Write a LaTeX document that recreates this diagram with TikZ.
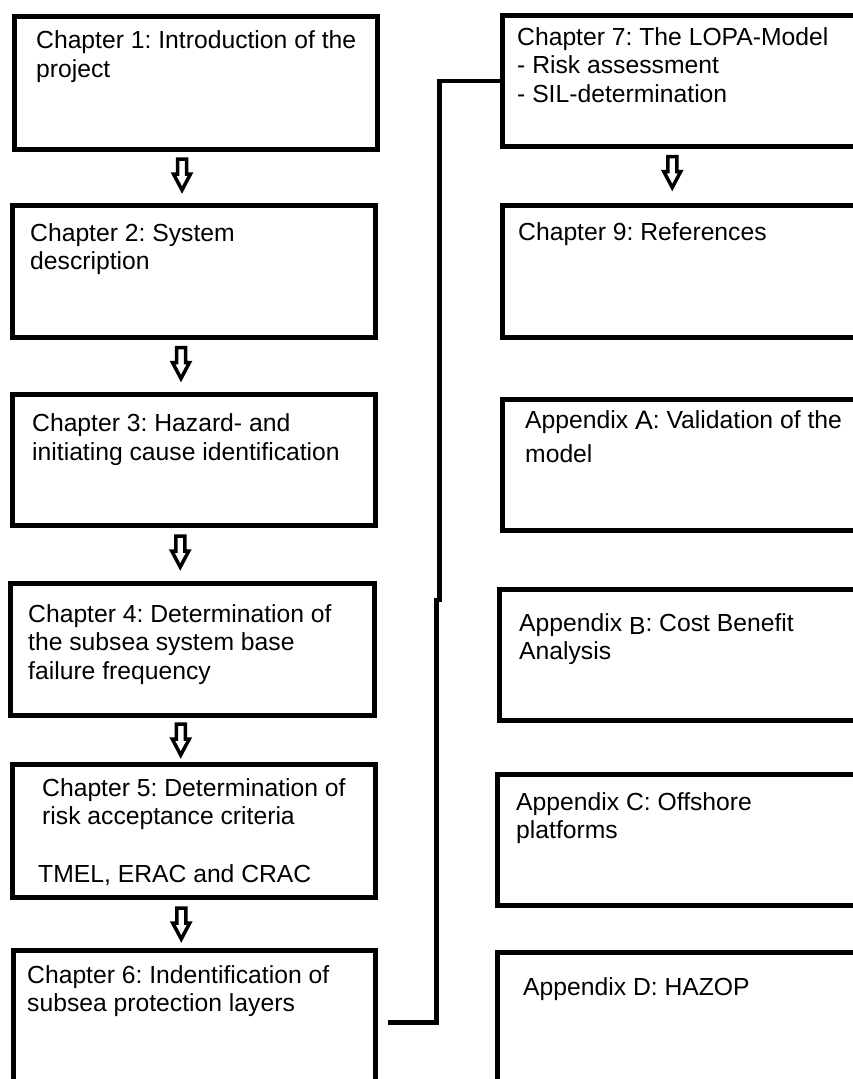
\documentclass[tikz,border=0pt]{standalone}
\usepackage{fontspec}
\usepackage{graphicx}
\setmainfont{Liberation Sans}
\usetikzlibrary{calc}
\frenchspacing

% box caption: lines stacked from the first baseline downwards
\newcommand{\boxtext}[1]{\begin{tabular}[t]{@{}l@{}}#1\end{tabular}}

\tikzset{
  box/.style={draw=black, line width=5.5pt, rectangle, inner sep=0pt, fill=white},
  txt/.style={anchor=base west, inner sep=0pt,
    font=\fontsize{24.7}{28.7}\selectfont, text=black},
  link/.style={draw=black, line width=4.5pt, line join=miter},
  downarrow/.pic={
    \draw[line width=3.5pt, fill=white, line join=miter, miter limit=10]
      (-4.5,-16) -- (4.5,-16) -- (4.5,-1) -- (8.5,-1) -- (0,15)
      -- (-8.5,-1) -- (-4.5,-1) -- cycle;
  }
}

\begin{document}
\begin{tikzpicture}[x=1pt, y=-1pt]
\useasboundingbox (0,0) rectangle (853,1079);
\clip (0,0) rectangle (853,1079);

% left column: chapters 1-6
\node[box, minimum width=363, minimum height=133] (b1) at (196,83) {};
\node[box, minimum width=363, minimum height=132] (b2) at (194,271.5) {};
\node[box, minimum width=363, minimum height=131] (b3) at (194,460) {};
\node[box, minimum width=364, minimum height=132] (b4) at (192.5,649.5) {};
\node[box, minimum width=363, minimum height=133] (b5) at (194,831) {};
\node[box, minimum width=362, minimum height=144] (b6) at (194.5,1022.5) {};

% right column: chapter 7, chapter 9, appendices
\node[box, minimum width=397.5, minimum height=131] (b7) at (701.25,81) {};
\node[box, minimum width=397.5, minimum height=132] (b9) at (701.25,271.5) {};
\node[box, minimum width=397.5, minimum height=131] (bA) at (701.25,465) {};
\node[box, minimum width=400.5, minimum height=131] (bB) at (699.75,655) {};
\node[box, minimum width=402.5, minimum height=131] (bC) at (698.75,840) {};
\node[box, minimum width=402.5, minimum height=147.5] (bD) at (698.75,1026.25) {};

% texts
\node[txt] (t1) at (36,48.3) {\boxtext{Chapter 1: Introduction of the\\project}};
\node[txt] (t2) at (30,241) {\boxtext{Chapter 2: System\\description}};
\node[txt] (t3) at (32,431.7) {\boxtext{Chapter 3: Hazard- and\\initiating cause identification}};
\node[txt] (t4) at (28,622) {\boxtext{Chapter 4: Determination of\\the subsea system base\\failure frequency}};
\node[txt] (t5) at (42,796) {\boxtext{Chapter 5: Determination of\\risk acceptance criteria\\[28.7pt]\hspace*{-4pt}TMEL, ERAC and CRAC}};
\node[txt] (t6) at (27,983) {\boxtext{Chapter 6: Indentification of\\subsea protection layers}};
\node[txt] (t7) at (517,45) {\boxtext{Chapter 7: The LOPA-Model\\- Risk assessment\\- SIL-determination}};
\node[txt] (t9) at (518,240) {\boxtext{Chapter 9: References}};
\node[txt] (tA) at (525,428) {\boxtext{Appendix \raisebox{-1.5pt}{\scalebox{1.08}{A}}: Validation of the\\[6pt]model}};
\node[txt] (tB) at (519,631) {\boxtext{Appendix \raisebox{-3.5pt}{B}: Cost Benefit\\Analysis}};
\node[txt] (tC) at (516,810) {\boxtext{Appendix C: Offshore\\platforms}};
\node[txt] (tD) at (523,995) {\boxtext{Appendix D: HAZOP}};

% block arrows between consecutive chapters
\pic at ($(b1.south)!0.5!(b2.north)+(-13,-2.5)$) {downarrow};
\pic at ($(b2.south)!0.5!(b3.north)+(-13,-2.5)$) {downarrow};
\pic at ($(b3.south)!0.5!(b4.north)+(-13,-2.5)$) {downarrow};
\pic at ($(b4.south)!0.5!(b5.north)+(-12.5,0)$) {downarrow};
\pic at ($(b5.south)!0.5!(b6.north)+(-13,0)$) {downarrow};
\pic at ($(b7.south)!0.5!(b9.north)+(-29,-3.5)$) {downarrow};

% chapter 6 leads on to chapter 7
\draw[link] ([xshift=9.5pt]b6.east) -| (436.5,600) -- (439.5,600) |- (b7.west);
\end{tikzpicture}
\end{document}
